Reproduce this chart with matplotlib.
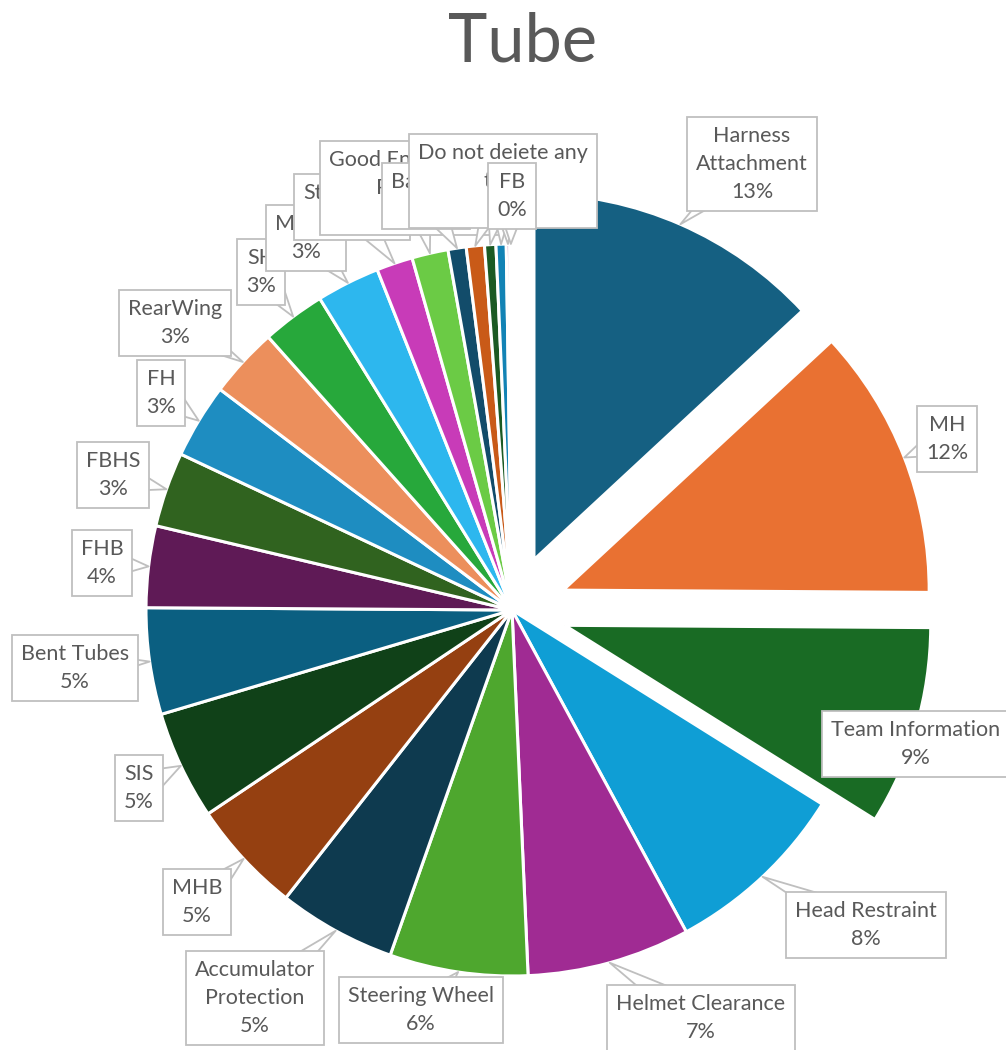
import matplotlib
matplotlib.use("Agg")
from matplotlib import pyplot as plt
import numpy as np

plt.rcParams['font.family'] = ['Lato', 'DejaVu Sans']

# slice data (share of issues, in %)
labels = ["Harness\nAttachment", "MH", "Team Information", "Head Restraint",
          "Helmet Clearance", "Steering Wheel", "Accumulator\nProtection", "MHB",
          "SIS", "Bent Tubes", "FHB", "FBHS", "FH", "RearWing", "SH", "MHBS",
          "Structures", "Good Engineering\nPractice", "Battery", "RH", "FBS",
          "Seat", "Do not deiete any\ntabs", "FB"]
values = [13.1, 12.0, 8.8, 8.2, 7.2, 6.1, 5.2, 5.0, 4.8, 4.7, 3.6, 3.3, 3.3,
          3.1, 2.8, 2.8, 1.6, 1.6, 0.8, 0.8, 0.5, 0.45, 0.15, 0.1]
colors = ["#156082", "#E97132", "#196B24", "#0F9ED5", "#A02B93", "#4EA72E",
          "#0E3A4F", "#954011", "#104118", "#0B5F81", "#5F1A56", "#30631F",
          "#1E8DC1", "#EC8F5C", "#27A83B", "#2DB7EE", "#C83BB8", "#6BCB45",
          "#124C6A", "#C95A18", "#1B5A23", "#1283B5", "#8E2A7F", "#4F9A2E"]
explode = [0.15, 0.15, 0.15] + [0] * 21

# label box centres, in figure pixels
label_pos = [(752, 164), (947, 439), (916, 744), (866, 925), (701, 1018),
             (421, 1010), (255, 998), (197, 902), (139, 788), (75, 668),
             (102, 563), (113, 475), (161, 393), (175, 323), (261, 272),
             (306, 238), (352, 207), (414, 188), (426, 196), (503, 181),
             (503, 181), (503, 181), (503, 181), (512, 196)]

W, H = 1006, 1050
CX, CY, R = 512, 610, 366   # pie centre / radius in pixels


def to_data(px, py):
    return (px - CX) / R, (CY - py) / R


fig = plt.figure(figsize=(W / 100, H / 100), dpi=100)
ax = fig.add_axes([0, 0, 1, 1])

wedges, _ = ax.pie(values, colors=colors, explode=explode, startangle=90,
                   counterclock=False, radius=1, center=(0, 0),
                   wedgeprops=dict(edgecolor="white", linewidth=2.2))

ax.set_xlim(-CX / R, (W - CX) / R)
ax.set_ylim(-(H - CY) / R, CY / R)
ax.set_aspect("equal")
ax.axis("off")

total = sum(values)
for w, lab, v, pos in zip(wedges, labels, values, label_pos):
    ang = np.deg2rad((w.theta1 + w.theta2) / 2)
    cx, cy = w.center
    tip = (cx + w.r * np.cos(ang), cy + w.r * np.sin(ang))
    pct = int(v / total * 100 + 0.5)
    ax.annotate(f"{lab}\n{pct}%", xy=tip, xytext=to_data(*pos),
                ha="center", va="center", fontsize=15.5, color="#595959",
                linespacing=1.5,
                bbox=dict(boxstyle="square,pad=0.42", fc="white",
                          ec="#BFBFBF", lw=1.3),
                arrowprops=dict(arrowstyle="wedge,tail_width=1.6,shrink_factor=0.5",
                                fc="white", ec="#BFBFBF", lw=1.3,
                                patchA=None, shrinkA=0, shrinkB=0))

fig.text(523 / W, 1 - 42 / H, "Tube", ha="center", va="center",
         fontsize=48, color="#595959")

fig.savefig("out.png", dpi=100)
